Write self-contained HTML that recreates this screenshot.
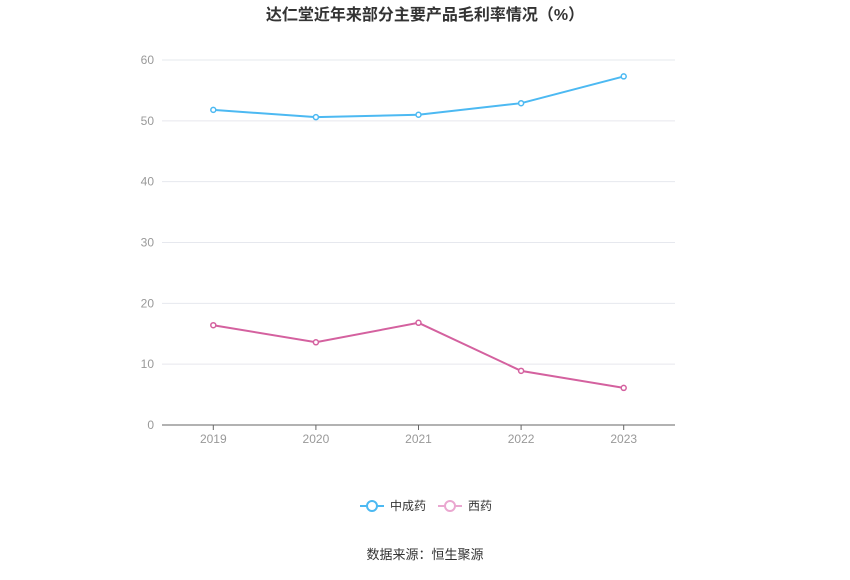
<!DOCTYPE html>
<html><head><meta charset="utf-8"><style>
body{margin:0;background:#fff;font-family:"Liberation Sans","Noto Sans CJK SC",sans-serif;}
svg text{font-family:"Liberation Sans","Noto Sans CJK SC",sans-serif;}
</style></head><body>
<svg id="chart" width="850" height="575" xmlns="http://www.w3.org/2000/svg">
<text x="425" y="20" text-anchor="middle" font-size="16" font-weight="bold" fill="#333">达仁堂近年来部分主要产品毛利率情况（%）</text>
<g id="grid"></g><g id="series"></g>
<g>
<line x1="360" y1="506" x2="384" y2="506" stroke="#4cb9f2" stroke-width="2"/>
<circle cx="372" cy="506" r="5" fill="#fff" stroke="#4cb9f2" stroke-width="2"/>
<text x="390" y="510" font-size="12" fill="#333">中成药</text>
<line x1="438" y1="506" x2="462" y2="506" stroke="#eaa7d0" stroke-width="2"/>
<circle cx="450" cy="506" r="5" fill="#fff" stroke="#eaa7d0" stroke-width="2"/>
<text x="468" y="510" font-size="12" fill="#333">西药</text>
</g>
<text x="425" y="559" text-anchor="middle" font-size="13" fill="#333">数据来源：恒生聚源</text>
</svg>
<script>
const categories=["2019","2020","2021","2022","2023"];
const seriesA=[51.8,50.6,51.0,52.9,57.3];
const seriesB=[16.4,13.6,16.8,8.9,6.1];
const yTicks=[0,10,20,30,40,50,60];
const NS="http://www.w3.org/2000/svg";
const x0=162,x1=675,yb=425,yt=60,ymax=60;
const step=(x1-x0)/categories.length;
const X=i=>x0+step*(i+0.5);
const Y=v=>yb-(v/ymax)*(yb-yt);
function mk(t,a,p){const e=document.createElementNS(NS,t);for(const k in a)e.setAttribute(k,a[k]);p.appendChild(e);return e;}
const g=document.getElementById('grid'),s=document.getElementById('series');
yTicks.forEach(v=>{
 if(v>0){const l=mk('line',{x1:x0,x2:x1,y1:Y(v),y2:Y(v),stroke:'#e6e8ee'},g);
 
 }
 const t=mk('text',{x:154,y:Y(v)+4,'text-anchor':'end','font-size':12,fill:'#999'},g);t.textContent=v;
 
 
});
const ax=mk('line',{x1:x0,x2:x1,y1:yb,y2:yb,stroke:'#666'},g);


categories.forEach((c,i)=>{
 mk('line',{x1:X(i),x2:X(i),y1:yb,y2:yb+5,stroke:'#666'},g);
 const t=mk('text',{x:X(i),y:yb+18,'text-anchor':'middle','font-size':12,fill:'#999'},g);t.textContent=c;
 
 
});
function draw(vals,color,name){
 const p=mk('polyline',{points:vals.map((v,i)=>X(i)+','+Y(v)).join(' '),fill:'none',stroke:color,'stroke-width':2},s);
 
 
 vals.forEach((v,i)=>{const c=mk('circle',{cx:X(i),cy:Y(v),r:2.5,fill:'#fff',stroke:color,'stroke-width':1.5},s);
 
 });
}
draw(seriesA,'#4cb9f2','zhongchengyao');
draw(seriesB,'#d4619f','xiyao');
</script>
</body></html>
